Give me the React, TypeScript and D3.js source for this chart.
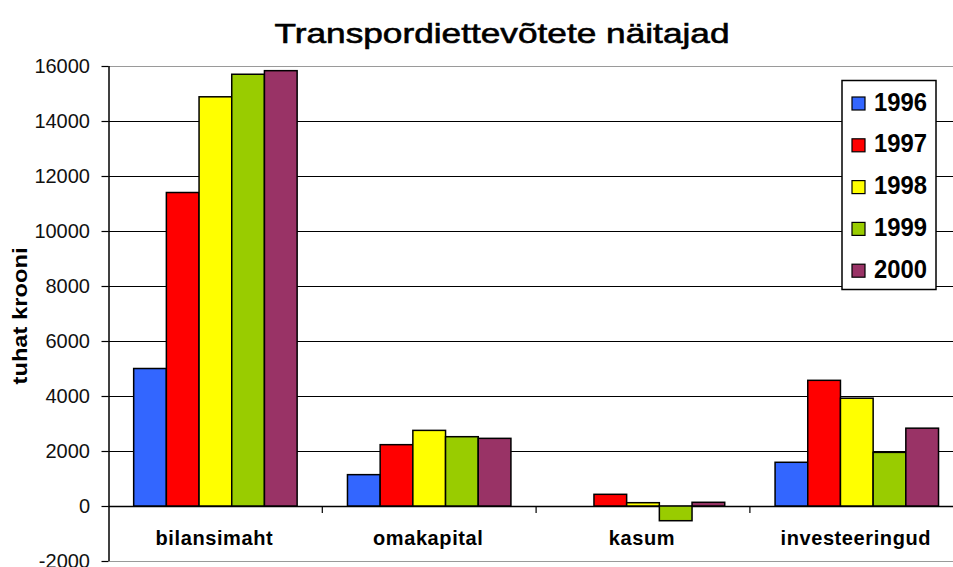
import * as d3 from "d3";

const categories = ["bilansimaht", "omakapital", "kasum", "investeeringud"];
const years = ["1996", "1997", "1998", "1999", "2000"];
const colors = ["#3366FF", "#FF0000", "#FFFF00", "#99CC00", "#993366"];

// values per year, in category order
const v1996 = [5000, 1140, 0, 1590];
const v1997 = [11400, 2230, 425, 4570];
const v1998 = [14880, 2750, 120, 3920];
const v1999 = [15700, 2520, -535, 1950];
const v2000 = [15830, 2460, 135, 2830];
const series = [v1996, v1997, v1998, v1999, v2000];

const yTicks = [-2000, 0, 2000, 4000, 6000, 8000, 10000, 12000, 14000, 16000];

const W = 953, H = 567;
const left = 108.5;
const band = 213.8;
const font = "'Liberation Sans', Arial, sans-serif";

export default function App() {
  const y = d3.scaleLinear().domain([-2000, 16000]).range([561, 66]);
  const x = d3.scaleBand().domain(categories).range([left, left + band * 4]);
  const xi = d3.scaleBand().domain(years).range([0, x.bandwidth()]).paddingOuter(0.77);

  return (
    <svg width={W} height={H} style={{ position: "absolute", left: 0, top: 0, background: "#fff" }}>
      <text x={502} y={43} textAnchor="middle" fontFamily={font} fontSize={28} stroke="#000" strokeWidth={0.6}
        textLength={455} lengthAdjust="spacingAndGlyphs">Transpordiettevõtete näitajad</text>

      {/* gridlines */}
      {yTicks.map(t => (
        <line key={t} x1={left} x2={W} y1={Math.round(y(t)) + 0.5} y2={Math.round(y(t)) + 0.5}
          stroke={t === 16000 || t === -2000 ? "#9a9a9a" : "#000"} strokeWidth={t === 0 ? 1.5 : 1.2} />
      ))}

      {/* y axis */}
      <line x1={left + 0.5} x2={left + 0.5} y1={y(16000)} y2={y(-2000)} stroke="#000" strokeWidth={1.5} />
      {yTicks.map(t => (
        <g key={"t" + t}>
          <line x1={left - 7} x2={left} y1={Math.round(y(t)) + 0.5} y2={Math.round(y(t)) + 0.5} stroke="#000" strokeWidth={1.2} />
          <text x={90} y={y(t) + 7} textAnchor="end" fontFamily={font} fontSize={20} fill="#111">{t}</text>
        </g>
      ))}

      <text transform="translate(27,316) rotate(-90)" textAnchor="middle" fontFamily={font} fontSize={21}
        fontWeight="bold" textLength={137} lengthAdjust="spacingAndGlyphs">tuhat krooni</text>

      {/* category ticks */}
      {categories.slice(1).map(c => (
        <line key={c} x1={x(c)!} x2={x(c)!} y1={y(0)} y2={y(0) + 7} stroke="#000" strokeWidth={1.2} />
      ))}

      {/* bars */}
      {series.map((vals, si) => (
        <g key={years[si]}>
          {vals.map((v, ci) => v === 0 ? null : (
            <rect key={ci}
              x={x(categories[ci])! + xi(years[si])!}
              y={y(Math.max(0, v))}
              width={xi.bandwidth()}
              height={Math.abs(y(v) - y(0))}
              fill={colors[si]} stroke="#000" strokeWidth={1.5} />
          ))}
        </g>
      ))}

      {/* category labels */}
      {categories.map(c => (
        <text key={c} x={x(c)! + x.bandwidth() / 2 - 1} y={545} textAnchor="middle" fontFamily={font}
          fontSize={20} fontWeight="bold" letterSpacing={0.6}>{c}</text>
      ))}

      {/* legend */}
      <rect x={842} y={80.5} width={94} height={209} fill="#fff" stroke="#000" strokeWidth={1.5} />
      {years.map((yr, i) => (
        <g key={yr} transform={`translate(0,${i * 41.8})`}>
          <rect x={852} y={97} width={13} height={13} fill={colors[i]} stroke="#000" strokeWidth={1.2} />
          <text x={874} y={110.5} fontFamily={font} fontSize={25} fontWeight="bold"
            textLength={53} lengthAdjust="spacingAndGlyphs">{yr}</text>
        </g>
      ))}
    </svg>
  );
}
